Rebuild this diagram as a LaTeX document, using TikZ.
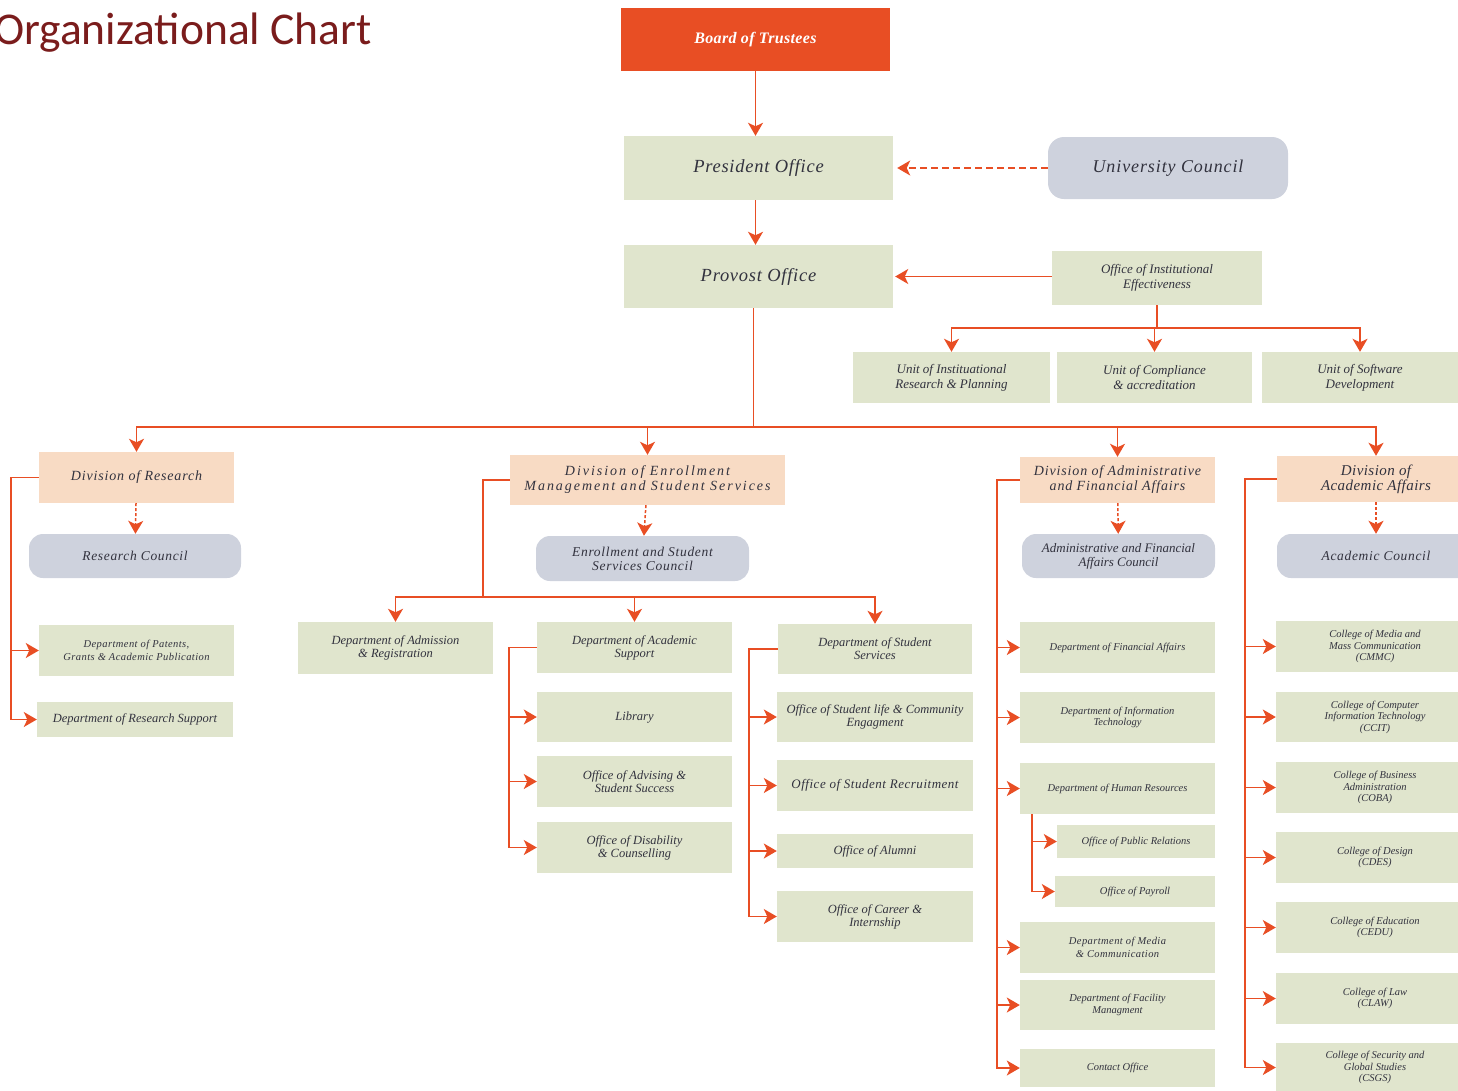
\documentclass[tikz,border=0pt]{standalone}
\usepackage{fontspec}
\setmainfont{Liberation Serif}
\newfontfamily\titlefont{Carlito}
\usetikzlibrary{arrows.meta}
\definecolor{orgorange}{RGB}{232,78,36}
\definecolor{orggreen}{RGB}{224,229,205}
\definecolor{orgpeach}{RGB}{248,219,196}
\definecolor{orggray}{RGB}{206,210,221}
\definecolor{orgtext}{RGB}{50,50,62}
\definecolor{orgtitle}{RGB}{122,28,28}
\tikzstyle{office}=[fill=orggreen, text=orgtext, align=center, inner sep=2pt,
  font=\itshape\fontsize{13}{15}\selectfont]
\tikzstyle{board}=[office, fill=orgorange, text=white,
  font=\bfseries\itshape\fontsize{16}{18}\selectfont\addfontfeature{LetterSpace=2}]
\tikzstyle{head}=[office, font=\itshape\fontsize{18.5}{20}\selectfont\addfontfeature{LetterSpace=4}]
\tikzstyle{council}=[office, fill=orggray, rounded corners=14pt,
  font=\itshape\fontsize{13.5}{14}\selectfont\addfontfeature{LetterSpace=5}]
\tikzstyle{division}=[office, fill=orgpeach,
  font=\itshape\fontsize{14}{15}\selectfont\addfontfeature{LetterSpace=6}]
\tikzstyle{dept}=[office, font=\itshape\fontsize{12.5}{13}\selectfont]
\tikzstyle{minor}=[office, font=\itshape\fontsize{10.5}{11.5}\selectfont]
\tikzstyle{line}=[draw, orgorange, line width=1.5pt,
  -{Stealth[length=13pt,width=15pt,inset=3.5pt]}]
\tikzstyle{linepart}=[line, dash pattern=on 7pt off 4pt]
\tikzstyle{linedot}=[line, dash pattern=on 3pt off 2pt]
% name, style, x, y, width, height, text
\newcommand{\orgbox}[7]{\node (#1) [#2, minimum width=#5pt, minimum height=#6pt]
  at (#3,#4) {#7};}

\begin{document}
\begin{tikzpicture}[x=1pt,y=-1pt]
  \useasboundingbox (0,0) rectangle (1458,1090);

  % Draw diagram elements
  \node (TITLE) [anchor=base west, inner sep=0pt, text=orgtitle,
    font=\titlefont\fontsize{45.5}{50}\selectfont] at (-6,44) {Organizational Chart};

  % top levels
  \orgbox{BOARD}{board}{755.5}{39.5}{269}{63}{Board of Trustees}
  \orgbox{PRES}{head}{758.5}{168}{269}{64}{President Office}
  \orgbox{UCOUNCIL}{council,rounded corners=16pt,font=\itshape\fontsize{18}{20}\selectfont\addfontfeature{LetterSpace=5}}{1168}{168}{240}{62}{University Council}
  \orgbox{PROVOST}{head}{758.5}{276.5}{269}{63}{Provost Office}
  \orgbox{OIE}{office}{1157}{278}{210}{54}{Office of Institutional\\Effectiveness}
  \orgbox{UNITIRP}{office}{951.5}{377.5}{197}{51}{Unit of Instituational\\Research \& Planning}
  \orgbox{UNITCA}{office}{1154.5}{377.5}{195}{51}{Unit of Compliance\\\& accreditation}
  \orgbox{UNITSD}{office}{1360}{377.5}{196}{51}{Unit of Software\\Development}

  % research division
  \orgbox{DIVRES}{division}{136.5}{477.5}{195}{51}{Division of Research}
  \orgbox{RESCOUNCIL}{council}{135}{556}{212}{44}{Research Council}
  \orgbox{PATENTS}{minor,font=\itshape\fontsize{10.5}{12.5}\selectfont\addfontfeature{LetterSpace=4}}{136.5}{650.5}{195}{51}{Department of Patents,\\Grants \& Academic Publication}
  \orgbox{RSUPPORT}{dept}{135}{719.5}{196}{35}{Department of Research Support}

  % enrollment division
  \orgbox{DIVENR}{division,font=\itshape\fontsize{14}{15}\selectfont\addfontfeature{LetterSpace=14}}{647.5}{480}{275}{50}{Division of Enrollment\\Management and Student Services}
  \orgbox{ENRCOUNCIL}{council}{642.5}{558.5}{213}{45}{Enrollment and Student\\Services Council}
  \orgbox{ADMREG}{dept}{395.5}{648}{195}{52}{Department of Admission\\\& Registration}
  \orgbox{ACASUP}{dept}{634.5}{647.5}{195}{51}{Department of Academic\\Support}
  \orgbox{STUSERV}{dept}{875}{649}{194}{50}{Department of Student\\Services}
  \orgbox{LIBRARY}{dept}{634.5}{717}{195}{50}{Library}
  \orgbox{ADVISING}{dept}{634.5}{781.5}{195}{51}{Office of Advising \&\\Student Success}
  \orgbox{DISABILITY}{dept}{634.5}{847.5}{195}{51}{Office of Disability\\\& Counselling}
  \orgbox{STULIFE}{dept}{875}{717}{196}{50}{Office of Student life \& Community\\Engagment}
  \orgbox{RECRUIT}{dept,font=\itshape\fontsize{13}{14}\selectfont\addfontfeature{LetterSpace=4}}{875}{785.5}{196}{51}{Office of Student Recruitment}
  \orgbox{ALUMNI}{dept}{875}{851}{196}{34}{Office of Alumni}
  \orgbox{CAREER}{dept}{875}{916.5}{196}{51}{Office of Career \&\\Internship}

  % administrative division
  \orgbox{DIVADM}{division}{1117.5}{480}{195}{46}{Division of Administrative\\and Financial Affairs}
  \orgbox{ADMCOUNCIL}{council,font=\itshape\fontsize{13}{14}\selectfont}{1118.5}{556}{193}{44}{Administrative and Financial\\Affairs Council}
  \orgbox{FINANCE}{minor}{1117.5}{647.5}{195}{51}{Department of Financial Affairs}
  \orgbox{ITDEPT}{minor}{1117.5}{717.5}{195}{51}{Department of Information\\Technology}
  \orgbox{HRDEPT}{minor}{1117.5}{788.5}{195}{51}{Department of Human Resources}
  \orgbox{PUBREL}{minor}{1136}{841.5}{158}{33}{Office of Public Relations}
  \orgbox{PAYROLL}{minor}{1135}{891.5}{160}{31}{Office of Payroll}
  \orgbox{MEDIA}{minor,font=\itshape\fontsize{10.5}{12.5}\selectfont\addfontfeature{LetterSpace=4}}{1117.5}{947.5}{195}{51}{Department of Media\\\& Communication}
  \orgbox{FACILITY}{minor}{1117.5}{1005}{195}{50}{Department of Facility\\Managment}
  \orgbox{CONTACT}{minor}{1117.5}{1068}{195}{38}{Contact Office}

  % academic division
  \orgbox{DIVACA}{division,font=\itshape\fontsize{15}{15}\selectfont\addfontfeature{LetterSpace=3}}{1376}{479}{198}{46}{Division of\\Academic Affairs}
  \orgbox{ACACOUNCIL}{council}{1376}{556}{198}{44}{Academic Council}
  \orgbox{CMMC}{minor}{1375}{646.5}{198}{51}{College of Media and\\Mass Communication\\(CMMC)}
  \orgbox{CCIT}{minor}{1375}{717}{198}{50}{College of Computer\\Information Technology\\(CCIT)}
  \orgbox{COBA}{minor}{1375}{787.5}{198}{51}{College of Business\\Administration\\(COBA)}
  \orgbox{CDES}{minor}{1375}{857.5}{198}{51}{College of Design\\(CDES)}
  \orgbox{CEDU}{minor}{1375}{927.5}{198}{51}{College of Education\\(CEDU)}
  \orgbox{CLAW}{minor}{1375}{998.5}{198}{51}{College of Law\\(CLAW)}
  \orgbox{CSGS}{minor}{1375}{1067.5}{198}{50}{College of Security and\\Global Studies\\(CSGS)}

  % Draw arrows between elements
  \path [line] (BOARD.south) -- (BOARD.south |- PRES.north);
  \path [line] ([xshift=-3pt]PRES.south) -- ([xshift=-3pt]PROVOST.north);
  \path [linepart, shorten >=4pt] (UCOUNCIL.west) -- (UCOUNCIL.west -| PRES.east);
  \path [line, shorten >=2pt] ([yshift=1.5pt]OIE.west) -- ([yshift=1.5pt]OIE.west -| PROVOST.east);
  \foreach \u in {UNITIRP,UNITCA,UNITSD}
    \path [line] (OIE.south) -- ++(0,23) -| (\u.north);

  % provost to divisions
  \foreach \d in {DIVRES,DIVENR,DIVADM,DIVACA}
    \path [line] ([xshift=-5pt]PROVOST.south) -- ++(0,119) -| (\d.north);

  % divisions to councils
  \path [linedot] (DIVRES) -- (RESCOUNCIL);
  \path [linedot] (DIVENR) -- (ENRCOUNCIL);
  \path [linedot] (DIVADM) -- (ADMCOUNCIL);
  \path [linedot] (DIVACA) -- (ACACOUNCIL);

  % research block
  \foreach \n in {PATENTS,RSUPPORT}
    \path [line] (DIVRES.west) -- ++(-28,0) |- (\n.west);

  % enrollment block
  \coordinate (ENRBUS) at (483,597);
  \foreach \n in {ADMREG,ACASUP,STUSERV}
    \path [line] (DIVENR.west) -| (ENRBUS) -| (\n.north);
  \foreach \n in {LIBRARY,ADVISING,DISABILITY}
    \path [line] (ACASUP.west) -- ++(-28,0) |- (\n.west);
  \foreach \n in {STULIFE,RECRUIT,ALUMNI,CAREER}
    \path [line] (STUSERV.west) -- ++(-29,0) |- (\n.west);

  % administrative block
  \foreach \n in {FINANCE,ITDEPT,HRDEPT,MEDIA,FACILITY,CONTACT}
    \path [line] (DIVADM.west) -- ++(-23,0) |- (\n.west);
  \foreach \n in {PUBREL,PAYROLL}
    \path [line] ([xshift=12pt]HRDEPT.south west) |- (\n.west);

  % academic block
  \foreach \n in {CMMC,CCIT,COBA,CDES,CEDU,CLAW,CSGS}
    \path [line] (DIVACA.west) -- ++(-32,0) |- (\n.west);

\end{tikzpicture}
\end{document}
